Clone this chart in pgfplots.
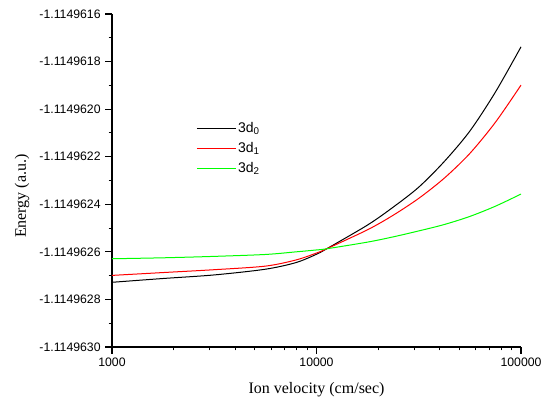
\documentclass[border=0pt]{standalone}
\usepackage{pgfplots}
\pgfplotsset{compat=1.18}
\usepackage{fontspec}
\setmainfont{Liberation Sans}
\newfontfamily\labelfont{Liberation Serif}
\definecolor{cgreen}{HTML}{00FF00}
\definecolor{cred}{HTML}{FF0000}

% energies are stored as offsets in units of 1e-7 a.u. above -1.1149630
% (the raw values differ only in the 7th digit, beyond the fpu's precision)
\pgfplotstableread{
x      y
1000   2.72
1778   2.88
3162   3.03
5623   3.27
7943   3.55
10000  3.90
11220  4.13
17780  5.13
23710  5.88
31620  6.72
42170  7.80
56230  9.08
75000  10.72
100000 12.62
}\dzero
\pgfplotstableread{
x      y
1000   3.01
1778   3.13
3162   3.25
5623   3.40
7943   3.66
10000  3.95
11220  4.13
17780  4.93
23710  5.54
31620  6.25
42170  7.10
56230  8.14
75000  9.45
100000 11.01
}\done
\pgfplotstableread{
x      y
1000   3.71
1778   3.75
3162   3.81
5623   3.89
7943   4.00
10000  4.08
11220  4.13
17780  4.41
23710  4.63
31620  4.88
42170  5.15
56230  5.49
75000  5.92
100000 6.43
}\dtwo

\begin{document}
\begin{tikzpicture}
\begin{semilogxaxis}[
  scale only axis,
  width=306.75pt, height=249.75pt,
  xmin=1000, xmax=100000,
  ymin=0, ymax=14,
  axis x line*=bottom, axis y line*=left,
  axis line style={line width=0.9pt},
  tick style={black, line width=0.8pt},
  tick align=outside,
  major tick length=5pt, minor tick length=2.5pt,
  xtick={1000,10000,100000},
  xticklabels={1000,10000,100000},
  ytick={0,2,...,14},
  yticklabels={-1.1149630,-1.1149628,-1.1149626,-1.1149624,-1.1149622,-1.1149620,-1.1149618,-1.1149616},
  minor y tick num=1,
  tick label style={font=\fontsize{9.2}{10}\selectfont},
  /pgf/number format/assume math mode=true,
  xlabel={Ion velocity (cm/sec)},
  ylabel={Energy (a.u.)},
  every axis x label/.style={at={(rel axis cs:0.5,-0.127)}, anchor=center, font=\labelfont\fontsize{12}{14}\selectfont},
  every axis y label/.style={at={(rel axis cs:-0.22,0.453)}, anchor=center, rotate=90, font=\labelfont\fontsize{12}{14}\selectfont},
  legend style={at={(rel axis cs:0.196,0.69)}, anchor=north west, draw=none, fill=none,
    font=\fontsize{10.5}{12}\selectfont, row sep=3pt,
    nodes={inner sep=1.5pt}},
  legend cell align=left,
  legend image code/.code={\draw[#1] plot coordinates {(0pt,0pt) (29pt,0pt)};},
  clip=false,
]
\addplot[black, line width=0.75pt, smooth] table[x=x,y=y] {\dzero};
\addlegendentry{3d\textsubscript{0}}
\addplot[cred, line width=0.75pt, smooth] table[x=x,y=y] {\done};
\addlegendentry{3d\textsubscript{1}}
\addplot[cgreen, line width=0.75pt, smooth] table[x=x,y=y] {\dtwo};
\addlegendentry{3d\textsubscript{2}}
\path (rel axis cs:-0.2738,-0.1652) rectangle (rel axis cs:1.0831,1.0420);
\end{semilogxaxis}
\end{tikzpicture}
\end{document}
